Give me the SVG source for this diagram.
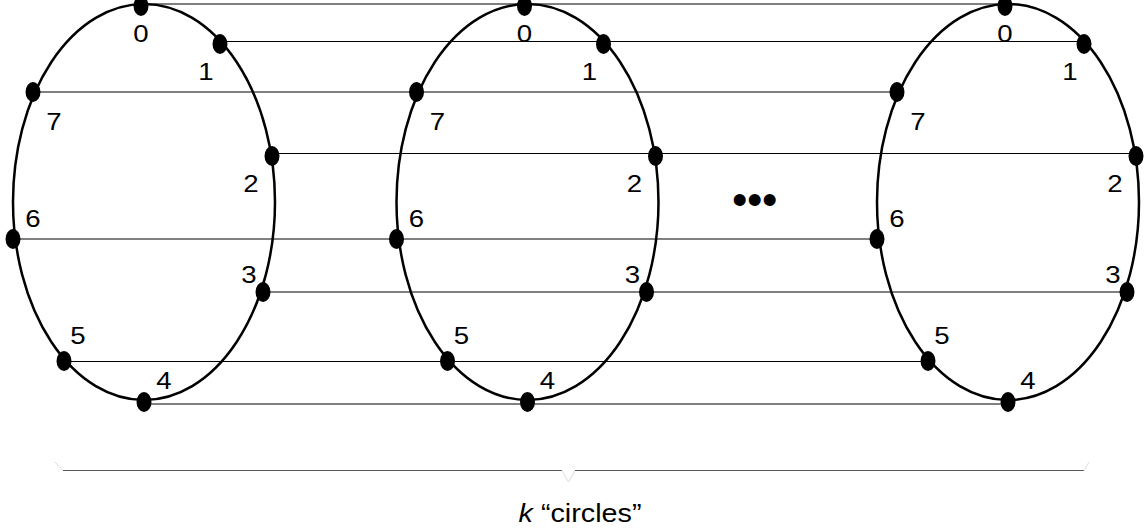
<svg xmlns="http://www.w3.org/2000/svg" width="1146" height="531" viewBox="0 0 1146 531">
<style>
.ring{fill:none;stroke:#000;stroke-width:2.5}
.dot{fill:#000}
.lab{font-family:"Liberation Sans",Arial,sans-serif;font-size:24px;fill:#000;text-anchor:middle}
.link{stroke:#000;stroke-width:1;fill:none}
.cap{font-family:"Liberation Sans",Arial,sans-serif;font-size:25px;fill:#000;text-anchor:middle}
</style>
<rect width="1146" height="531" fill="#fff"/>
<g id="connectors">
<line class="link" x1="141" y1="4" x2="1005" y2="4"/>
<line class="link" x1="220" y1="41.5" x2="1084" y2="41.5"/>
<line class="link" x1="33" y1="92" x2="897" y2="92"/>
<line class="link" x1="272" y1="153.5" x2="1136" y2="153.5"/>
<line class="link" x1="13" y1="239" x2="877" y2="239"/>
<line class="link" x1="263" y1="292" x2="1127" y2="292"/>
<line class="link" x1="64" y1="361.5" x2="928" y2="361.5"/>
<line class="link" x1="144" y1="404" x2="1008" y2="404"/>
</g>
<g id="circle1">
<ellipse class="ring" cx="144" cy="202" rx="131" ry="198"/>
<g id="c1n0"><ellipse class="dot" cx="141" cy="6" rx="7.5" ry="10"/><text class="lab" transform="translate(141,41.5) scale(1.15,1)">0</text></g>
<g id="c1n1"><ellipse class="dot" cx="220" cy="44" rx="7.5" ry="10"/><text class="lab" transform="translate(206,79.5) scale(1.15,1)">1</text></g>
<g id="c1n2"><ellipse class="dot" cx="272" cy="156" rx="7.5" ry="10"/><text class="lab" transform="translate(251,191.5) scale(1.15,1)">2</text></g>
<g id="c1n3"><ellipse class="dot" cx="263" cy="292" rx="7.5" ry="10"/><text class="lab" transform="translate(249,282.5) scale(1.15,1)">3</text></g>
<g id="c1n4"><ellipse class="dot" cx="144" cy="402" rx="7.5" ry="10"/><text class="lab" transform="translate(164,388.5) scale(1.15,1)">4</text></g>
<g id="c1n5"><ellipse class="dot" cx="64" cy="361" rx="7.5" ry="10"/><text class="lab" transform="translate(78,343.5) scale(1.15,1)">5</text></g>
<g id="c1n6"><ellipse class="dot" cx="13" cy="239" rx="7.5" ry="10"/><text class="lab" transform="translate(33,226.5) scale(1.15,1)">6</text></g>
<g id="c1n7"><ellipse class="dot" cx="33" cy="92" rx="7.5" ry="10"/><text class="lab" transform="translate(54,129.5) scale(1.15,1)">7</text></g>
</g>
<g id="circle2">
<ellipse class="ring" cx="527.5" cy="202" rx="131" ry="198"/>
<g id="c2n0"><ellipse class="dot" cx="524.5" cy="6" rx="7.5" ry="10"/><text class="lab" transform="translate(524.5,41.5) scale(1.15,1)">0</text></g>
<g id="c2n1"><ellipse class="dot" cx="603.5" cy="44" rx="7.5" ry="10"/><text class="lab" transform="translate(589.5,79.5) scale(1.15,1)">1</text></g>
<g id="c2n2"><ellipse class="dot" cx="655.5" cy="156" rx="7.5" ry="10"/><text class="lab" transform="translate(634.5,191.5) scale(1.15,1)">2</text></g>
<g id="c2n3"><ellipse class="dot" cx="646.5" cy="292" rx="7.5" ry="10"/><text class="lab" transform="translate(632.5,282.5) scale(1.15,1)">3</text></g>
<g id="c2n4"><ellipse class="dot" cx="527.5" cy="402" rx="7.5" ry="10"/><text class="lab" transform="translate(547.5,388.5) scale(1.15,1)">4</text></g>
<g id="c2n5"><ellipse class="dot" cx="447.5" cy="361" rx="7.5" ry="10"/><text class="lab" transform="translate(461.5,343.5) scale(1.15,1)">5</text></g>
<g id="c2n6"><ellipse class="dot" cx="396.5" cy="239" rx="7.5" ry="10"/><text class="lab" transform="translate(416.5,226.5) scale(1.15,1)">6</text></g>
<g id="c2n7"><ellipse class="dot" cx="416.5" cy="92" rx="7.5" ry="10"/><text class="lab" transform="translate(437.5,129.5) scale(1.15,1)">7</text></g>
</g>
<g id="circle3">
<ellipse class="ring" cx="1008" cy="202" rx="131" ry="198"/>
<g id="c3n0"><ellipse class="dot" cx="1005" cy="6" rx="7.5" ry="10"/><text class="lab" transform="translate(1005,41.5) scale(1.15,1)">0</text></g>
<g id="c3n1"><ellipse class="dot" cx="1084" cy="44" rx="7.5" ry="10"/><text class="lab" transform="translate(1070,79.5) scale(1.15,1)">1</text></g>
<g id="c3n2"><ellipse class="dot" cx="1136" cy="156" rx="7.5" ry="10"/><text class="lab" transform="translate(1115,191.5) scale(1.15,1)">2</text></g>
<g id="c3n3"><ellipse class="dot" cx="1127" cy="292" rx="7.5" ry="10"/><text class="lab" transform="translate(1113,282.5) scale(1.15,1)">3</text></g>
<g id="c3n4"><ellipse class="dot" cx="1008" cy="402" rx="7.5" ry="10"/><text class="lab" transform="translate(1028,388.5) scale(1.15,1)">4</text></g>
<g id="c3n5"><ellipse class="dot" cx="928" cy="361" rx="7.5" ry="10"/><text class="lab" transform="translate(942,343.5) scale(1.15,1)">5</text></g>
<g id="c3n6"><ellipse class="dot" cx="877" cy="239" rx="7.5" ry="10"/><text class="lab" transform="translate(897,226.5) scale(1.15,1)">6</text></g>
<g id="c3n7"><ellipse class="dot" cx="897" cy="92" rx="7.5" ry="10"/><text class="lab" transform="translate(918,129.5) scale(1.15,1)">7</text></g>
</g>
<g id="ellipsis">
<text font-family="'Liberation Sans',Arial,sans-serif" font-size="44" letter-spacing="-0.4" x="732" y="214.5">•••</text>
</g>
<g id="brace">
<polyline points="55,462 63,470.5" fill="none" stroke="#ddd" stroke-width="1"/>
<polyline points="63,470.5 562,470.5" fill="none" stroke="#555" stroke-width="1"/>
<polyline points="562,470.5 568.5,482 575,470.5" fill="none" stroke="#ddd" stroke-width="1"/>
<polyline points="575,470.5 1084,470.5" fill="none" stroke="#555" stroke-width="1"/>
<polyline points="1084,470.5 1089,462" fill="none" stroke="#ddd" stroke-width="1"/>
<text class="cap" transform="translate(580,522) scale(1.15,1)"><tspan font-style="italic">k</tspan> “circles”</text>
</g>
</svg>
